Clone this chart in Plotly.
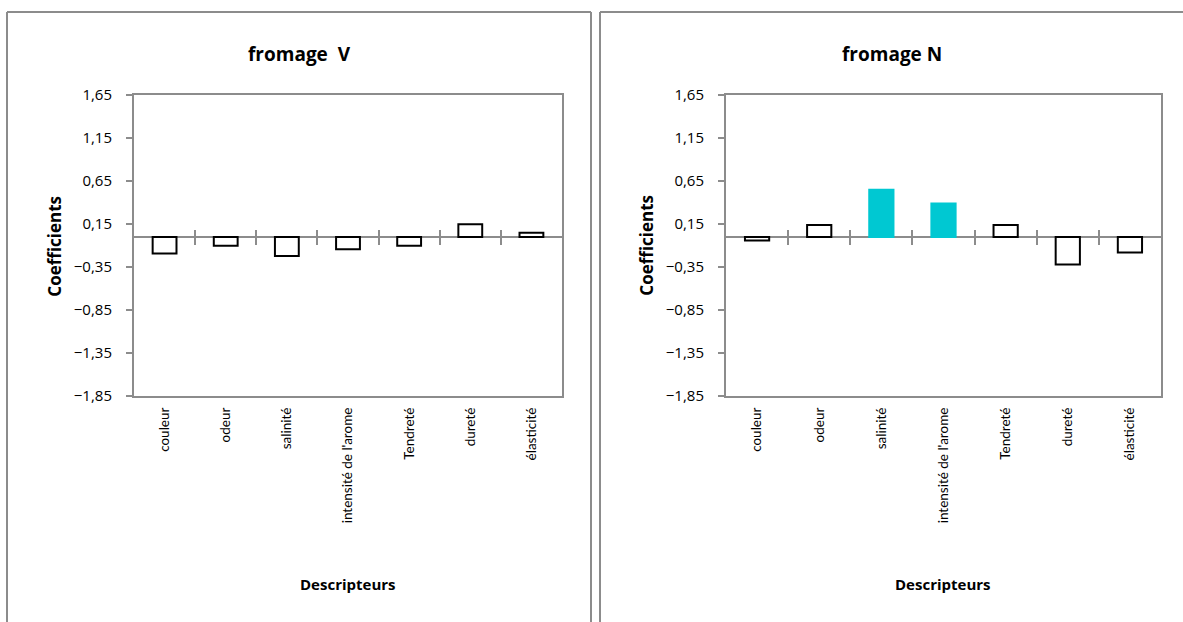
import plotly.graph_objects as go

categories = ["couleur", "odeur", "salinité", "intensité de l'arome", "Tendreté", "dureté", "élasticité"]
values_V = [-0.19, -0.10, -0.22, -0.14, -0.10, 0.15, 0.05]
values_N = [-0.04, 0.14, 0.55, 0.39, 0.14, -0.32, -0.18]
highlight_N = [False, False, True, True, False, False, False]
titles = ["fromage  V", "fromage N"]
y_ticks = [1.65, 1.15, 0.65, 0.15, -0.35, -0.85, -1.35, -1.85]
y_min, y_max = -1.85, 1.65

W, H = 1183, 622
GRAY = "#8c8c8c"
CYAN = "#00C8D2"
FONT = "Open Sans"

def px(x):
    return x / W

def py(y):
    return 1 - y / H

doms_x = [(px(134), px(562)), (px(726), px(1161))]
dom_y = (py(398), py(87))
zero_pos = dom_y[0] + (0 - y_min) / (y_max - y_min) * (dom_y[1] - dom_y[0])

fig = go.Figure()

fills_V = ["white"] * len(categories)
lines_V = ["black"] * len(categories)
fills_N = [CYAN if h else "white" for h in highlight_N]
lines_N = [CYAN if h else "black" for h in highlight_N]

fig.add_trace(go.Bar(x=categories, y=values_V, xaxis="x", yaxis="y",
                     marker=dict(color=fills_V, line=dict(color=lines_V, width=2)),
                     width=0.39, showlegend=False))
fig.add_trace(go.Bar(x=categories, y=values_N, xaxis="x2", yaxis="y2",
                     marker=dict(color=fills_N, line=dict(color=lines_N, width=2)),
                     width=0.39, showlegend=False))

n = len(categories)
bounds = [i + 0.5 for i in range(n - 1)]

layout = dict(
    width=W, height=H, margin=dict(l=0, r=0, t=0, b=0),
    paper_bgcolor="white", plot_bgcolor="white",
    separators=", ", showlegend=False,
    font=dict(family=FONT, size=12, color="black"),
)

xtick_font = dict(family="Lato", size=13.5, color="black")
ytick_font = dict(family=FONT, size=15, color="black")
shapes = []
annotations = []
for k, (sx, sy, ax) in enumerate([("x", "y", 1), ("x2", "y2", 2)]):
    xa = "xaxis" if ax == 1 else "xaxis2"
    ya = "yaxis" if ax == 1 else "yaxis2"
    layout[xa] = dict(domain=list(doms_x[k]), anchor=sy, type="category",
                      categoryorder="array", categoryarray=categories,
                      range=[-0.5, n - 0.5], showline=True, mirror=True,
                      linecolor=GRAY, linewidth=2, ticks="", tickangle=-90,
                      tickfont=xtick_font, showgrid=False, zeroline=False,
                      ticklabelstandoff=4, fixedrange=True)
    layout[ya] = dict(domain=list(dom_y), anchor=sx, range=[y_min, y_max],
                      tickmode="array", tickvals=y_ticks, tickformat=".2f",
                      ticks="outside", ticklen=6, tickwidth=1.5, tickcolor=GRAY,
                      showline=True, mirror=True, linecolor=GRAY, linewidth=2,
                      showgrid=False, zeroline=True, zerolinecolor=GRAY,
                      zerolinewidth=2, tickfont=ytick_font, ticklabelstandoff=11,
                      fixedrange=True)
    # crossing tick marks on the horizontal axis at y = 0
    for j, mode in enumerate(["outside", "inside"]):
        idx = 3 + 2 * k + j
        layout["xaxis%d" % idx] = dict(overlaying=sx, anchor="free", position=zero_pos,
                                       range=[-0.5, n - 0.5], type="linear",
                                       tickmode="array", tickvals=bounds,
                                       ticks=mode, ticklen=7, tickwidth=2, tickcolor=GRAY,
                                       showticklabels=False, showline=False,
                                       showgrid=False, zeroline=False, fixedrange=True)
        fig.add_trace(go.Scatter(x=[None], y=[None], xaxis="x%d" % idx, yaxis=sy,
                                 showlegend=False, hoverinfo="skip"))
    cx = (doms_x[k][0] + doms_x[k][1]) / 2
    annotations.append(dict(text="<b>%s</b>" % titles[k], x=px(299) if k == 0 else px(892),
                            y=py(44), xref="paper", yref="paper", showarrow=False,
                            font=dict(family=FONT, size=19, color="black"),
                            xanchor="center", yanchor="middle"))
    annotations.append(dict(text="<b>Descripteurs</b>", x=cx, y=py(592),
                            xref="paper", yref="paper", showarrow=False,
                            font=dict(family=FONT, size=15, color="black"),
                            xanchor="center", yanchor="middle"))
    annotations.append(dict(text="<b>Coefficients</b>", x=px(55) if k == 0 else px(647),
                            y=(dom_y[0] + dom_y[1]) / 2, xref="paper", yref="paper",
                            showarrow=False, textangle=-90,
                            font=dict(family=FONT, size=17, color="black"),
                            xanchor="center", yanchor="middle"))

# chart-area borders
border = dict(color=GRAY, width=2)
for (x0, y0, x1, y1) in [(7, 1, 7, 640), (7, 1, 591, 1), (591, 1, 591, 640),
                         (600, 1, 600, 640), (600, 1, 1190, 1)]:
    shapes.append(dict(type="line", xref="paper", yref="paper",
                       x0=px(x0), y0=py(y0), x1=px(x1), y1=py(y1), line=border))

layout["shapes"] = shapes
layout["annotations"] = annotations
fig.update_layout(**layout)
fig.write_html("out.html", config={"displayModeBar": False},
               post_script="document.body.style.margin='0';")
